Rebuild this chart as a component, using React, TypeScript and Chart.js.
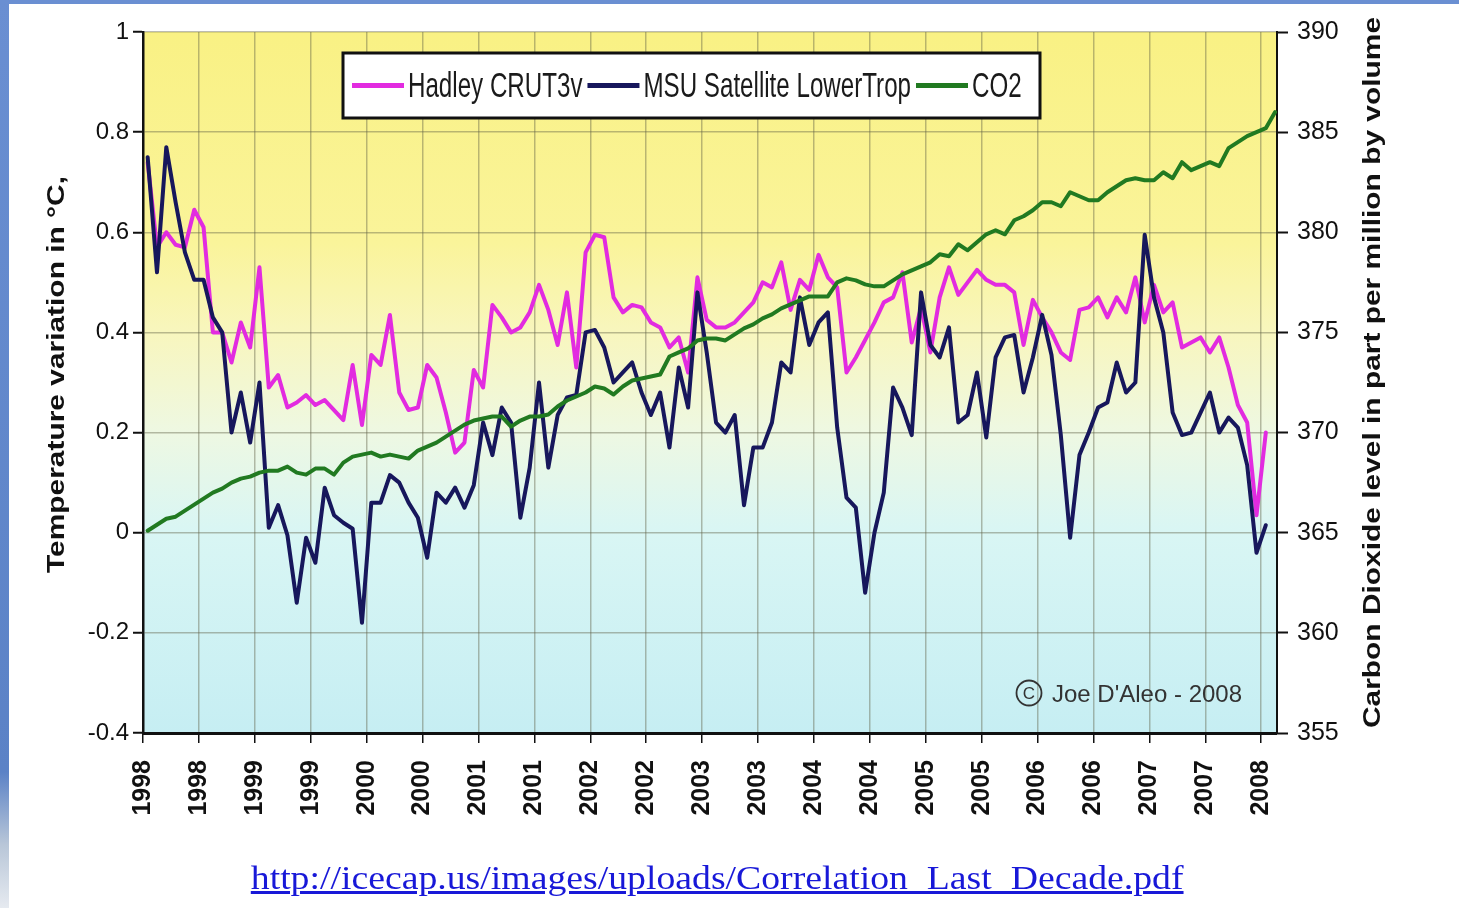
import React, { useEffect, useRef } from 'react';
import { Chart, registerables } from 'chart.js';

Chart.register(...registerables);

// ---- Data (monthly, Jan 1998 onwards) ----
const X_TICK_POS = [0, 6, 12, 18, 24, 30, 36, 42, 48, 54, 60, 66, 72, 78, 84, 90, 96, 102, 108, 114, 120];
const X_TICK_LABELS = ['1998', '1998', '1999', '1999', '2000', '2000', '2001', '2001', '2002', '2002', '2003', '2003', '2004', '2004', '2005', '2005', '2006', '2006', '2007', '2007', '2008'];
const TEMP_TICKS = [-0.4, -0.2, 0, 0.2, 0.4, 0.6, 0.8, 1];
const TEMP_TICK_LABELS = ['-0.4', '-0.2', '0', '0.2', '0.4', '0.6', '0.8', '1'];
const CO2_TICKS = [355, 360, 365, 370, 375, 380, 385, 390];
const CO2_TICK_LABELS = ['355', '360', '365', '370', '375', '380', '385', '390'];

const HADLEY = [
  0.74, 0.57, 0.60, 0.575, 0.57, 0.645, 0.61, 0.40, 0.40, 0.34, 0.42, 0.37,
  0.53, 0.29, 0.315, 0.25, 0.26, 0.275, 0.255, 0.265, 0.245, 0.225, 0.335, 0.215,
  0.355, 0.335, 0.435, 0.28, 0.245, 0.25, 0.335, 0.31, 0.24, 0.16, 0.18, 0.325,
  0.29, 0.455, 0.43, 0.40, 0.41, 0.44, 0.495, 0.445, 0.375, 0.48, 0.33, 0.56,
  0.595, 0.59, 0.47, 0.44, 0.455, 0.45, 0.42, 0.41, 0.37, 0.39, 0.32, 0.51,
  0.425, 0.41, 0.41, 0.42, 0.44, 0.46, 0.50, 0.49, 0.54, 0.445, 0.505, 0.485,
  0.555, 0.51, 0.49, 0.32, 0.35, 0.385, 0.42, 0.46, 0.47, 0.52, 0.38, 0.45,
  0.36, 0.47, 0.53, 0.475, 0.50, 0.525, 0.505, 0.495, 0.495, 0.48, 0.375, 0.465,
  0.43, 0.40, 0.36, 0.345, 0.445, 0.45, 0.47, 0.43, 0.47, 0.44, 0.51, 0.42,
  0.495, 0.44, 0.46, 0.37, 0.38, 0.39, 0.36, 0.39, 0.33, 0.255, 0.22, 0.035,
  0.20,
];

const MSU = [
  0.75, 0.52, 0.77, 0.66, 0.56, 0.505, 0.505, 0.43, 0.40, 0.20, 0.28, 0.18,
  0.30, 0.01, 0.055, -0.005, -0.14, -0.01, -0.06, 0.09, 0.035, 0.02, 0.008, -0.18,
  0.06, 0.06, 0.115, 0.10, 0.06, 0.03, -0.05, 0.08, 0.06, 0.09, 0.05, 0.095,
  0.22, 0.155, 0.25, 0.22, 0.03, 0.13, 0.30, 0.13, 0.235, 0.27, 0.275, 0.40,
  0.405, 0.37, 0.30, 0.32, 0.34, 0.28, 0.235, 0.28, 0.17, 0.33, 0.25, 0.48,
  0.36, 0.22, 0.20, 0.235, 0.055, 0.17, 0.17, 0.22, 0.34, 0.32, 0.47, 0.375,
  0.42, 0.44, 0.21, 0.07, 0.05, -0.12, 0.0, 0.08, 0.29, 0.25, 0.195, 0.48,
  0.375, 0.35, 0.41, 0.22, 0.235, 0.32, 0.19, 0.35, 0.39, 0.395, 0.28, 0.35,
  0.435, 0.355, 0.195, -0.01, 0.155, 0.20, 0.25, 0.26, 0.34, 0.28, 0.30, 0.595,
  0.47, 0.40, 0.24, 0.195, 0.20, 0.24, 0.28, 0.20, 0.23, 0.21, 0.135, -0.04,
  0.015,
];

const CO2 = [
  365.1, 365.4, 365.7, 365.8, 366.1, 366.4, 366.7, 367.0, 367.2, 367.5, 367.7, 367.8,
  368.0, 368.1, 368.1, 368.3, 368.0, 367.9, 368.2, 368.2, 367.9, 368.5, 368.8, 368.9,
  369.0, 368.8, 368.9, 368.8, 368.7, 369.1, 369.3, 369.5, 369.8, 370.1, 370.4, 370.6,
  370.7, 370.8, 370.8, 370.3, 370.6, 370.8, 370.8, 370.9, 371.3, 371.6, 371.8, 372.0,
  372.3, 372.2, 371.9, 372.3, 372.6, 372.7, 372.8, 372.9, 373.8, 374.0, 374.2, 374.6,
  374.7, 374.7, 374.6, 374.9, 375.2, 375.4, 375.7, 375.9, 376.2, 376.4, 376.6, 376.8,
  376.8, 376.8, 377.5, 377.7, 377.6, 377.4, 377.3, 377.3, 377.6, 377.9, 378.1, 378.3,
  378.5, 378.9, 378.8, 379.4, 379.1, 379.5, 379.9, 380.1, 379.9, 380.6, 380.8, 381.1,
  381.5, 381.5, 381.3, 382.0, 381.8, 381.6, 381.6, 382.0, 382.3, 382.6, 382.7, 382.6,
  382.6, 383.0, 382.7, 383.5, 383.1, 383.3, 383.5, 383.3, 384.2, 384.5, 384.8, 385.0,
  385.2, 386.0,
];

const SERIES_NAMES = ['Hadley CRUT3v', 'MSU Satellite LowerTrop', 'CO2'];
const SERIES_COLORS = ['#E22BE0', '#17175C', '#217A21'];
const LEFT_TITLE = 'Temperature variation in °C,';
const RIGHT_TITLE = 'Carbon Dioxide level in part per million by volume';
const CREDIT = "Joe D'Aleo - 2008";
const URL_TEXT = 'http://icecap.us/images/uploads/Correlation_Last_Decade.pdf';

const MID_MONTH = 0.5; // values plotted at mid-month
const X_MAX = 121.7;
const FONT = '"Liberation Sans", Arial, Helvetica, sans-serif';
const GRID = 'rgba(95,95,70,0.42)';

const toPoints = (arr: number[]) => arr.map((v, i) => ({ x: i + MID_MONTH, y: v }));

const bgPlugin = {
  id: 'plotBg',
  beforeDraw(chart: any) {
    const { ctx, chartArea: ca } = chart;
    const g = ctx.createLinearGradient(0, ca.top, 0, ca.bottom);
    g.addColorStop(0, '#F9F184');
    g.addColorStop(0.3, '#FAF49A');
    g.addColorStop(0.43, '#F8F6BE');
    g.addColorStop(0.57, '#EEF8E2');
    g.addColorStop(0.71, '#D9F6F4');
    g.addColorStop(1, '#C6EEF3');
    ctx.save();
    ctx.fillStyle = g;
    ctx.fillRect(ca.left, ca.top, ca.right - ca.left, ca.bottom - ca.top);
    ctx.restore();
  },
};

function drawVerticalTitle(ctx: CanvasRenderingContext2D, text: string, cx: number, cy: number) {
  ctx.save();
  ctx.translate(cx, cy);
  ctx.rotate(-Math.PI / 2);
  ctx.scale(1.3, 1);
  ctx.font = `bold 23px ${FONT}`;
  ctx.textAlign = 'center';
  ctx.textBaseline = 'middle';
  ctx.fillStyle = '#111';
  ctx.fillText(text, 0, 0);
  ctx.restore();
}

const overlayPlugin = {
  id: 'overlay',
  afterDraw(chart: any) {
    const { ctx, chartArea: ca } = chart;
    const midY = (ca.top + ca.bottom) / 2;

    // axis titles
    drawVerticalTitle(ctx, LEFT_TITLE, chart.scales.y.left + 58, midY - 8);
    drawVerticalTitle(ctx, RIGHT_TITLE, chart.scales.y2.right - 85, midY - 10);

    // legend box
    const boxL = ca.left + 200;
    const boxT = ca.top + 21;
    const boxW = 697;
    const boxH = 65;
    ctx.save();
    ctx.fillStyle = '#ffffff';
    ctx.fillRect(boxL, boxT, boxW, boxH);
    ctx.lineWidth = 3;
    ctx.strokeStyle = '#111';
    ctx.strokeRect(boxL, boxT, boxW, boxH);
    ctx.font = `35px ${FONT}`;
    const sx = 0.69;
    const cy = boxT + boxH / 2;
    let x = boxL + 9;
    SERIES_NAMES.forEach((name, k) => {
      ctx.strokeStyle = SERIES_COLORS[k];
      ctx.lineWidth = 5;
      ctx.lineCap = 'butt';
      ctx.beginPath();
      ctx.moveTo(x, cy);
      ctx.lineTo(x + 52, cy);
      ctx.stroke();
      x += 56;
      ctx.save();
      ctx.translate(x, boxT + 44);
      ctx.scale(sx, 1);
      ctx.fillStyle = '#1a1a1a';
      ctx.textBaseline = 'alphabetic';
      ctx.textAlign = 'left';
      ctx.fillText(name, 0, 0);
      ctx.restore();
      x += ctx.measureText(name).width * sx + 5;
    });
    ctx.restore();

    // credit watermark
    ctx.save();
    const ccx = ca.right - 248;
    const ccy = ca.top + 661;
    ctx.strokeStyle = '#333';
    ctx.lineWidth = 1.8;
    ctx.beginPath();
    ctx.arc(ccx, ccy, 12.5, 0, Math.PI * 2);
    ctx.stroke();
    ctx.fillStyle = '#333';
    ctx.font = `17px ${FONT}`;
    ctx.textAlign = 'center';
    ctx.textBaseline = 'middle';
    ctx.fillText('C', ccx, ccy + 1);
    ctx.font = `24px ${FONT}`;
    ctx.textAlign = 'left';
    ctx.textBaseline = 'alphabetic';
    ctx.fillText(CREDIT, ca.right - 225, ca.top + 670);
    ctx.restore();
  },
};

export default function App() {
  const canvasRef = useRef<HTMLCanvasElement | null>(null);

  useEffect(() => {
    document.body.style.margin = '0';
    const canvas = canvasRef.current;
    if (!canvas) return;
    const tickFont = { family: FONT, size: 24 };
    const chart = new Chart(canvas, {
      type: 'line',
      data: {
        datasets: [
          {
            label: SERIES_NAMES[2],
            data: toPoints(CO2),
            yAxisID: 'y2',
            borderColor: SERIES_COLORS[2],
            borderWidth: 4,
            order: 0,
          },
          {
            label: SERIES_NAMES[1],
            data: toPoints(MSU),
            yAxisID: 'y',
            borderColor: SERIES_COLORS[1],
            borderWidth: 4,
            order: 1,
          },
          {
            label: SERIES_NAMES[0],
            data: toPoints(HADLEY),
            yAxisID: 'y',
            borderColor: SERIES_COLORS[0],
            borderWidth: 4,
            order: 2,
          },
        ],
      },
      options: {
        animation: false,
        responsive: false,
        devicePixelRatio: 1,
        elements: {
          point: { radius: 0, hoverRadius: 0 },
          line: { tension: 0, borderJoinStyle: 'round', borderCapStyle: 'round', fill: false },
        },
        layout: { padding: { top: 32, left: 0, right: 0, bottom: 0 } },
        plugins: {
          legend: { display: false },
          tooltip: { enabled: false },
          title: { display: false },
        },
        scales: {
          x: {
            type: 'linear',
            min: 0,
            max: X_MAX,
            afterBuildTicks: (s: any) => {
              s.ticks = X_TICK_POS.map((v) => ({ value: v }));
            },
            afterFit: (s: any) => {
              s.height = 175;
            },
            ticks: {
              autoSkip: false,
              minRotation: 90,
              maxRotation: 90,
              padding: 17,
              color: '#111',
              font: { family: FONT, size: 25, weight: 'bold' },
              callback: (_v: any, i: number) => X_TICK_LABELS[i],
            },
            grid: { color: GRID, lineWidth: 1.5, tickLength: 10, tickColor: '#111', tickWidth: 1.5 },
            border: { color: '#111', width: 3 },
          },
          y: {
            type: 'linear',
            position: 'left',
            min: -0.4,
            max: 1,
            afterBuildTicks: (s: any) => {
              s.ticks = TEMP_TICKS.map((v) => ({ value: v }));
            },
            afterFit: (s: any) => {
              s.width = 143;
            },
            ticks: {
              padding: 4,
              color: '#111',
              font: tickFont,
              callback: (_v: any, i: number) => TEMP_TICK_LABELS[i],
            },
            grid: { color: GRID, lineWidth: 1.5, tickLength: 10, tickColor: '#111', tickWidth: 2 },
            border: { color: '#111', width: 2.5 },
          },
          y2: {
            type: 'linear',
            position: 'right',
            min: 355,
            max: 390,
            afterBuildTicks: (s: any) => {
              s.ticks = CO2_TICKS.map((v) => ({ value: v }));
            },
            afterFit: (s: any) => {
              s.width = 182;
            },
            ticks: {
              padding: 9,
              color: '#111',
              font: { family: FONT, size: 25 },
              callback: (_v: any, i: number) => CO2_TICK_LABELS[i],
            },
            grid: { drawOnChartArea: false, tickLength: 11, tickColor: '#111', tickWidth: 2 },
            border: { color: '#111', width: 2 },
          },
        },
      } as any,
      plugins: [bgPlugin, overlayPlugin],
    });
    return () => chart.destroy();
  }, []);

  return (
    <div
      style={{
        position: 'absolute',
        left: 0,
        top: 0,
        width: 1459,
        height: 908,
        background: '#ffffff',
        overflow: 'hidden',
      }}
    >
      <div
        style={{
          position: 'absolute',
          left: 0,
          top: 0,
          width: 9,
          height: 908,
          background: 'linear-gradient(to bottom, #6a8fd2 0%, #5b82c6 85%, #b8c6d8 93%, #e6eaf0 100%)',
        }}
      />
      <div style={{ position: 'absolute', left: 0, top: 0, width: 1459, height: 4, background: '#6a8fd2' }} />
      <canvas ref={canvasRef} width={1459} height={908} style={{ position: 'absolute', left: 0, top: 0 }} />
      <div
        style={{
          position: 'absolute',
          left: 0,
          top: 858,
          width: 1435,
          textAlign: 'center',
          fontFamily: '"Liberation Serif", "Times New Roman", serif',
          fontSize: '34px',
          lineHeight: '40px',
          whiteSpace: 'nowrap',
        }}
      >
        <a
          href={URL_TEXT}
          style={{
            display: 'inline-block',
            color: '#1818d8',
            textDecoration: 'underline',
            transform: 'scaleX(1.11)',
          }}
        >
          {URL_TEXT}
        </a>
      </div>
    </div>
  );
}
